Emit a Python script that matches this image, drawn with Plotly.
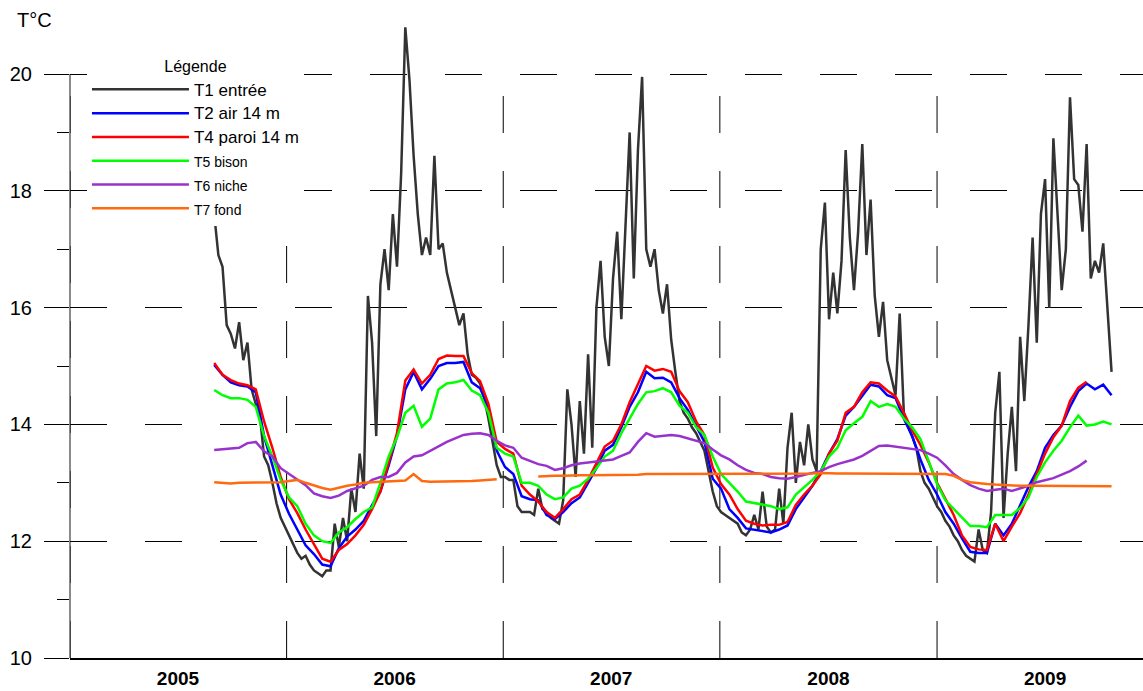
import pandas as pd
import plotly.graph_objects as go

# ---------------- data ----------------
t1_start = "2005-09-01"      # weekly samples
t1_step_days = 7
t1_entree = [
    17.6, 16.9, 16.7, 15.7, 15.55, 15.3, 15.75, 15.1, 15.4, 14.6,
    14.35, 14.15, 13.45, 13.3, 13.0, 12.65, 12.4, 12.25, 12.1, 11.95,
    11.8, 11.7, 11.75, 11.6, 11.5, 11.45, 11.4, 11.5, 11.5, 12.3,
    11.9, 12.4, 12.0, 12.9, 12.5, 13.5, 12.9, 16.2, 15.4, 13.8,
    16.4, 17.0, 16.3, 17.6, 16.7, 18.3, 20.8, 19.9, 18.6, 17.6,
    16.9, 17.2, 16.9, 18.6, 17.0, 17.1, 16.6, 16.3, 16.0, 15.7,
    15.9, 15.2, 14.85, 14.8, 14.7, 14.45, 14.1, 13.7, 13.3, 13.1,
    13.1, 13.05, 13.05, 12.6, 12.5, 12.5, 12.5, 12.45, 12.9, 12.55,
    12.5, 12.4, 12.35, 12.3, 12.7, 14.6, 14.0, 13.1, 14.4, 13.5,
    15.2, 13.6, 16.0, 16.8, 15.5, 15.0, 16.5, 17.3, 15.8, 17.5,
    19.0, 16.5, 18.7, 19.95, 17.0, 16.7, 17.0, 16.3, 15.9, 16.4,
    15.45, 14.9, 14.4, 14.2, 14.1, 13.95, 13.85, 13.7, 13.55, 13.2,
    12.85, 12.6, 12.5, 12.45, 12.4, 12.35, 12.3, 12.15, 12.1, 12.2,
    12.45, 12.2, 12.85, 12.25, 12.15, 12.2, 12.9, 12.3, 13.6, 14.2,
    13.0, 13.7, 13.3, 14.0, 13.4, 13.2, 17.0, 17.8, 15.8, 16.6,
    15.9, 16.8, 18.7, 17.2, 16.3, 17.3, 18.8, 16.9, 17.85, 16.2,
    15.5, 16.1, 15.1, 14.8, 14.5, 15.9, 14.2, 14.0, 13.8, 13.6,
    13.2, 13.0, 12.9, 12.75, 12.6, 12.5, 12.35, 12.25, 12.1, 12.0,
    11.85, 11.75, 11.7, 11.65, 12.2, 11.85, 11.8, 12.5, 14.2, 14.9,
    12.4, 13.5, 14.3, 13.2, 15.5, 14.4, 15.7, 17.2, 15.4, 17.6,
    18.2, 16.0, 18.9, 17.6, 16.3, 17.0, 19.6, 18.2, 18.1, 17.3,
    18.8, 16.5, 16.8, 16.6, 17.1, 16.0, 14.9,
]

series_start = "2005-09-01"  # fortnightly samples
series_step_days = 14
t2_air = [
    15.02, 14.85, 14.72, 14.67, 14.65, 14.55, 13.8, 13.3, 12.8, 12.47,
    12.2, 11.93, 11.78, 11.6, 11.57, 11.88, 12.08, 12.2, 12.35, 12.62,
    12.85, 13.3, 13.8, 14.6, 14.9, 14.6, 14.78, 15.0, 15.05, 15.05,
    15.07, 14.72, 14.62, 14.3, 13.55, 13.27, 13.15, 12.77, 12.72, 12.7,
    12.45, 12.38, 12.5, 12.65, 12.75, 13.0, 13.25, 13.55, 13.65, 13.95,
    14.3, 14.55, 14.9, 14.79, 14.8, 14.72, 14.45, 14.25, 13.98, 13.7,
    13.07, 12.9, 12.55, 12.4, 12.22, 12.2, 12.18, 12.15, 12.2, 12.27,
    12.55, 12.75, 12.95, 13.2, 13.5, 13.75, 14.15, 14.3, 14.5, 14.68,
    14.65, 14.5, 14.45, 14.1, 13.8, 13.4, 13.05, 12.8, 12.5, 12.3,
    12.05, 11.82, 11.8, 11.8, 12.3, 12.1, 12.3, 12.62, 12.93, 13.2,
    13.6, 13.82, 13.98, 14.3, 14.57, 14.7, 14.6, 14.68, 14.5,
]
t4_paroi = [
    15.05, 14.85, 14.76, 14.7, 14.67, 14.6, 14.05, 13.6, 13.1, 12.72,
    12.48, 12.2, 11.95, 11.7, 11.65, 11.85, 11.95, 12.1, 12.28, 12.55,
    12.85, 13.35, 13.85, 14.75, 14.94, 14.7, 14.85, 15.12, 15.18, 15.17,
    15.17, 14.88, 14.74, 14.35, 13.7, 13.58, 13.5, 12.95, 12.8, 12.68,
    12.5, 12.4, 12.55, 12.72, 12.8, 13.05, 13.35, 13.62, 13.72, 14.0,
    14.38, 14.68, 15.0, 14.92, 14.95, 14.9, 14.57, 14.38, 14.05, 13.82,
    13.26, 12.98, 12.8, 12.55, 12.35, 12.3, 12.27, 12.28, 12.28, 12.33,
    12.62, 12.8, 12.95, 13.15, 13.5, 13.72, 14.2, 14.3, 14.55, 14.72,
    14.7, 14.58, 14.48, 14.2, 13.9, 13.65, 13.35, 13.0, 12.72, 12.45,
    12.1, 11.9, 11.86, 11.85, 12.3, 12.0, 12.25, 12.48, 12.8, 13.15,
    13.5, 13.78, 13.98, 14.4, 14.63, 14.73, None, None, None,
]
t5_bison = [
    14.59, 14.5, 14.45, 14.45, 14.42, 14.3, 13.8, 13.45, 13.05, 12.75,
    12.6, 12.3, 12.1, 12.0, 11.97, 12.15, 12.24, 12.38, 12.5, 12.58,
    13.0, 13.45, 13.78, 14.2, 14.32, 13.96, 14.1, 14.6, 14.7, 14.72,
    14.76, 14.58, 14.5, 14.2, 13.6, 13.5, 13.45, 13.0, 13.0, 12.95,
    12.8, 12.72, 12.75, 12.9, 12.95, 13.07, 13.25, 13.45, 13.55, 13.85,
    14.1, 14.35, 14.55, 14.57, 14.62, 14.55, 14.32, 14.2, 13.95, 13.82,
    13.45, 13.15, 13.0, 12.85, 12.68, 12.65, 12.62, 12.6, 12.55, 12.58,
    12.8, 12.92, 13.05, 13.2, 13.45, 13.6, 13.9, 14.02, 14.13, 14.4,
    14.3, 14.35, 14.3, 14.1, 13.95, 13.75, 13.35, 12.98, 12.7, 12.55,
    12.4, 12.26, 12.26, 12.24, 12.45, 12.45, 12.45, 12.57, 12.75, 13.1,
    13.35, 13.55, 13.72, 13.95, 14.15, 13.98, 14.0, 14.05, 14.0,
]
t6_niche = [
    13.56, 13.57, 13.58, 13.6, 13.68, 13.7, 13.54, 13.45, 13.25, 13.15,
    13.05, 12.96, 12.82, 12.77, 12.74, 12.78, 12.86, 12.9, 12.95, 13.05,
    13.1, 13.1, 13.17, 13.35, 13.45, 13.47, 13.55, 13.62, 13.7, 13.76,
    13.82, 13.84, 13.85, 13.82, 13.72, 13.64, 13.6, 13.43, 13.37, 13.32,
    13.29, 13.22, 13.25, 13.3, 13.33, 13.35, 13.36, 13.38, 13.4, 13.46,
    13.52, 13.7, 13.85, 13.79, 13.8, 13.82, 13.8, 13.76, 13.72, 13.68,
    13.57, 13.47, 13.4, 13.3, 13.22, 13.17, 13.15, 13.1, 13.08, 13.07,
    13.1, 13.14, 13.17, 13.2, 13.27, 13.32, 13.36, 13.4, 13.46, 13.54,
    13.63, 13.64, 13.62, 13.6, 13.58, 13.56, 13.5, 13.43, 13.3, 13.15,
    13.05, 12.96, 12.9, 12.86, 12.88, 12.9, 12.86, 12.9, 12.95, 13.01,
    13.05, 13.08, 13.14, 13.2, 13.28, 13.38, None, None, None,
]
t7_fond = [
    13.01, 13.0, 12.99, 13.0, 13.0, 13.0, 13.01, 13.01, 13.01, 13.03,
    13.05, 13.0, 12.95, 12.91, 12.88, 12.92, 12.95, 12.97, 13.0, 13.01,
    13.02, 13.02, 13.03, 13.04, 13.15, 13.03, 13.02, 13.02, 13.02, 13.02,
    13.03, 13.03, 13.04, 13.05, 13.06, None, None, None, None, 13.11,
    13.12, 13.12, 13.12, 13.13, 13.13, 13.13, 13.13, 13.14, 13.14, 13.14,
    13.14, 13.14, 13.15, 13.15, 13.15, 13.15, 13.15, 13.15, 13.15, 13.16,
    13.16, 13.16, 13.16, 13.16, 13.16, 13.16, 13.16, 13.15, 13.15, 13.15,
    13.16, 13.16, 13.16, 13.17, 13.16, 13.16, 13.16, 13.16, 13.16, 13.16,
    13.16, 13.16, 13.16, 13.16, 13.16, 13.16, 13.16, 13.16, 13.15, 13.12,
    13.05, 13.01, 12.99, 12.98, 12.97, 12.96, 12.96, 12.95, 12.95, 12.95,
    12.95, 12.95, 12.95, 12.94, 12.94, 12.94, 12.94, 12.94, 12.94,
]

year_labels = ["2005", "2006", "2007", "2008", "2009"]
year_label_dates = ["2005-07-02", "2006-07-02", "2007-07-02", "2008-07-02", "2009-07-02"]
year_starts = ["2005-01-01", "2006-01-01", "2007-01-01", "2008-01-01", "2009-01-01"]
y_major = [10, 12, 14, 16, 18, 20]
y_minor = [11, 13, 15, 17, 19]
x_range = ["2005-01-01", "2009-12-14"]
y_range = [10, 20.908]

FONT = "Liberation Sans, Arial, sans-serif"


def dates(start, step, n):
    return pd.date_range(start=start, periods=n, freq=f"{step}D")


fig = go.Figure()

big = "<span style='font-size:17px'>{}</span>"
small = "<span style='font-size:14px'>{}</span>"
specs = [
    (big.format("T1 entrée"), t1_entree, t1_start, t1_step_days, "#333333", 2.5),
    (big.format("T2 air 14 m"), t2_air, series_start, series_step_days, "#0000ff", 2.5),
    (big.format("T4 paroi 14 m"), t4_paroi, series_start, series_step_days, "#ff0000", 2.5),
    (small.format("T5 bison"), t5_bison, series_start, series_step_days, "#00ff00", 2.5),
    (small.format("T6 niche"), t6_niche, series_start, series_step_days, "#9932cc", 2.5),
    (small.format("T7 fond"), t7_fond, series_start, series_step_days, "#ff6a10", 2.5),
]
for name, vals, start, step, color, width in specs:
    fig.add_trace(go.Scatter(
        x=dates(start, step, len(vals)), y=vals, mode="lines", name=name,
        line=dict(color=color, width=width), connectgaps=False,
    ))

shapes = []
# grey left axis line from 10 to 20
shapes.append(dict(type="line", xref="paper", yref="paper", x0=0, x1=0,
                   y0=0, y1=(20 - y_range[0]) / (y_range[1] - y_range[0]),
                   line=dict(color="#8a8a8a", width=2), layer="below"))
# dashed vertical year separators (drawn from the bottom up)
for d in year_starts:
    shapes.append(dict(type="line", xref="x", yref="y", x0=d, x1=d, y0=10, y1=20,
                       line=dict(color="black", width=1, dash="37px,38px"), layer="below"))

fig.update_layout(
    width=1143, height=691,
    margin=dict(l=70, r=0, t=21, b=33, autoexpand=False),
    paper_bgcolor="white", plot_bgcolor="white",
    font=dict(family=FONT, color="black"),
    shapes=shapes,
    showlegend=True,
    legend=dict(
        title=dict(text="Légende", side="top center", font=dict(size=16, family=FONT)),
        x=0.0158, y=0.9519, xanchor="left", yanchor="top",
        bgcolor="white", borderwidth=0,
        itemwidth=97, tracegroupgap=0, traceorder="normal",
        font=dict(size=16, family=FONT, color="black"),
    ),
    annotations=[dict(text="T°C", xref="paper", yref="paper", x=-0.0513, y=1.0016,
                      xanchor="left", yanchor="middle", showarrow=False,
                      font=dict(size=20, family=FONT))],
)

fig.update_xaxes(
    type="date", range=x_range, automargin=False,
    tickmode="array", tickvals=year_label_dates, ticktext=year_labels,
    ticks="", showgrid=False, zeroline=False,
    showline=True, linecolor="black", linewidth=1.5,
    tickfont=dict(size=19, family=FONT, weight="bold"),
    ticklabelstandoff=2,
)
fig.update_yaxes(
    range=y_range, automargin=False, tickmode="array", tickvals=y_major,
    ticks="outside", ticklen=25, tickcolor="black", tickwidth=1,
    showgrid=True, gridcolor="black", gridwidth=1, griddash="37px,38px",
    zeroline=False, showline=False,
    minor=dict(tickmode="array", tickvals=y_minor, ticks="outside", ticklen=12,
               tickcolor="black", tickwidth=1, showgrid=False),
    tickfont=dict(size=20, family=FONT),
    ticklabelstandoff=8,
)

fig.write_html(
    "out.html",
    config={"displayModeBar": False},
    post_script="document.body.style.margin='0';document.body.style.padding='0';"
                "document.body.style.overflow='hidden';",
)
